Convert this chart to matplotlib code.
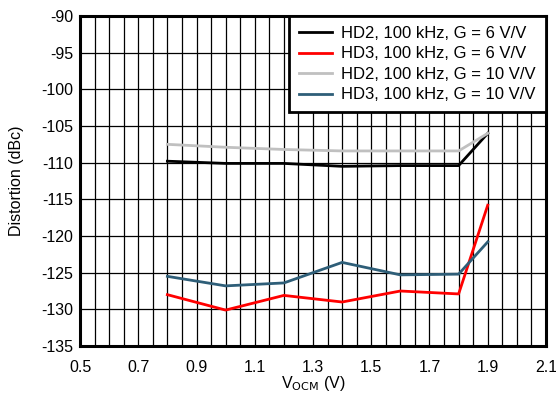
import matplotlib
matplotlib.use("Agg")
import matplotlib.pyplot as plt
import numpy as np

plt.rcParams['font.family'] = ['Liberation Sans', 'DejaVu Sans']
plt.rcParams['axes.unicode_minus'] = False

vocm = [0.8, 1.0, 1.2, 1.4, 1.6, 1.8, 1.9]
hd2_g6 = [-109.8, -110.1, -110.1, -110.5, -110.4, -110.4, -106.0]
hd3_g6 = [-128.0, -130.1, -128.1, -129.0, -127.5, -127.9, -115.8]
hd2_g10 = [-107.5, -107.9, -108.2, -108.4, -108.4, -108.4, -106.0]
hd3_g10 = [-125.5, -126.8, -126.4, -123.6, -125.3, -125.2, -120.8]

labels = ["HD2, 100 kHz, G = 6 V/V", "HD3, 100 kHz, G = 6 V/V",
          "HD2, 100 kHz, G = 10 V/V", "HD3, 100 kHz, G = 10 V/V"]
colors = ["#000000", "#FF0000", "#C0C0C0", "#2E5E78"]

xticks = [0.5, 0.7, 0.9, 1.1, 1.3, 1.5, 1.7, 1.9, 2.1]
yticks = list(range(-135, -89, 5))

fig = plt.figure(figsize=(5.56, 3.94), dpi=100)
ax = fig.add_axes([0.1439, 0.1218, 0.8381, 0.8376])

for ys, c, lab in zip([hd2_g6, hd3_g6, hd2_g10, hd3_g10], colors, labels):
    ax.plot(vocm, ys, color=c, lw=2, label=lab, zorder=3)

ax.set_xlim(0.5, 2.1)
ax.set_ylim(-135, -90)
ax.set_xticks(xticks)
ax.set_xticklabels([f"{v:.1f}" for v in xticks])
ax.set_xticks(np.arange(0.5, 2.1001, 0.05), minor=True)
ax.set_yticks(yticks)
ax.grid(True, which='major', color='black', lw=0.9)
ax.grid(True, which='minor', axis='x', color='black', lw=0.9)
ax.tick_params(which='both', length=0, labelsize=11.5)
ax.tick_params(axis='x', pad=10)
ax.tick_params(axis='y', pad=5)
for s in ax.spines.values():
    s.set_linewidth(2.2)
    s.set_color('black')

ax.set_xlabel("V$_{\\mathrm{OCM}}$ (V)", fontsize=11.5, labelpad=-1)
ax.set_ylabel("Distortion (dBc)", fontsize=11.5, labelpad=12)

leg = ax.legend(loc='upper right', bbox_to_anchor=(1, 1), borderaxespad=0,
                fancybox=False, framealpha=1, edgecolor='black', fontsize=12,
                handlelength=2.0, labelspacing=0.33, handletextpad=0.55,
                borderpad=0.6)
leg.get_frame().set_linewidth(2)
leg.set_zorder(5)

fig.savefig("out.png", dpi=100)
